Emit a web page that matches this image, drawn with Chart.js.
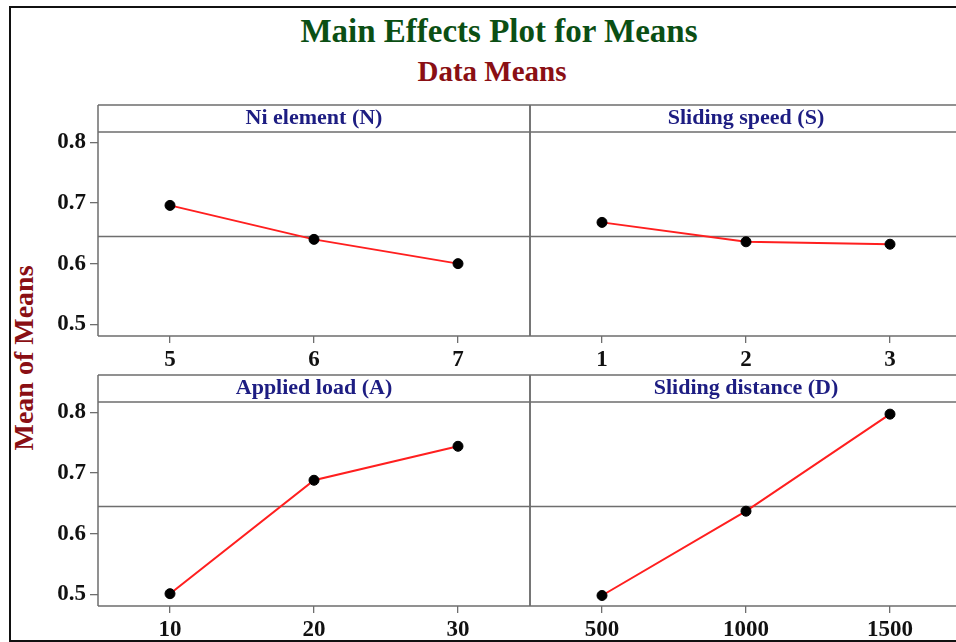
<!DOCTYPE html>
<html>
<head>
<meta charset="utf-8">
<script src="https://cdn.jsdelivr.net/npm/chart.js@4.4.1/dist/chart.umd.min.js"></script>
<style>
html,body{margin:0;padding:0;width:956px;height:642px;overflow:hidden;background:#fff;}
#frame{position:absolute;left:9px;top:6px;width:1000px;height:636px;border:2px solid #111;box-sizing:border-box;}
.txt{position:absolute;text-align:center;font-family:"Liberation Serif","Times New Roman",serif;font-weight:bold;white-space:nowrap;line-height:1;}
#title{left:199px;width:600px;top:15px;font-size:33px;color:#0b4f14;}
#subtitle{left:192px;width:600px;top:57px;font-size:29px;color:#8a0f14;}
#ytitle{left:-126px;width:300px;top:343px;height:30px;line-height:30px;font-size:28px;color:#8a0f14;transform:rotate(-90deg);}
canvas{position:absolute;}
</style>
</head>
<body>
<div id="frame"></div>
<div class="txt" id="title">Main Effects Plot for Means</div>
<div class="txt" id="subtitle">Data Means</div>
<div class="txt" id="ytitle">Mean of Means</div>
<canvas id="c1" width="492" height="272" style="left:40px;top:104px"></canvas>
<canvas id="c2" width="436" height="272" style="left:528px;top:104px"></canvas>
<canvas id="c3" width="492" height="272" style="left:40px;top:374px"></canvas>
<canvas id="c4" width="436" height="272" style="left:528px;top:374px"></canvas>
<script>
// ---- data ----
const niLevels = [5, 6, 7];
const niMeans = [0.696, 0.640, 0.600];
const speedLevels = [1, 2, 3];
const speedMeans = [0.668, 0.636, 0.632];
const loadLevels = [10, 20, 30];
const loadMeans = [0.501, 0.688, 0.744];
const distLevels = [500, 1000, 1500];
const distMeans = [0.498, 0.637, 0.797];
const grandMean = 0.6447;
const yTickValues = [0.5, 0.6, 0.7, 0.8];
const panelTitles = ["Ni element (N)", "Sliding speed (S)", "Applied load (A)", "Sliding distance (D)"];

const FONT = "'Liberation Serif','Times New Roman',serif";
const BOX = '#6e6e6e';

const boxPlugin = {
  id: 'panelBox',
  afterDatasetsDraw(chart) {
    const {ctx, chartArea: a} = chart;
    ctx.save();
    ctx.strokeStyle = BOX;
    ctx.lineWidth = 1.5;
    ctx.beginPath();
    ctx.moveTo(a.left, 1); ctx.lineTo(a.right, 1);
    ctx.moveTo(a.left, a.top); ctx.lineTo(a.right, a.top);
    ctx.moveTo(a.left, a.bottom); ctx.lineTo(a.right, a.bottom);
    ctx.moveTo(a.left, 1); ctx.lineTo(a.left, a.bottom);
    ctx.moveTo(a.right, 1); ctx.lineTo(a.right, a.bottom);
    ctx.stroke();
    ctx.restore();
  }
};

function makePanel(id, levels, means, title, isLeft) {
  const step = levels[1] - levels[0];
  const xMin = levels[0] - step / 2;
  const xMax = levels[levels.length - 1] + step / 2;
  new Chart(document.getElementById(id), {
    type: 'line',
    data: {
      datasets: [
        {
          data: levels.map((x, i) => ({x: x, y: means[i]})),
          borderColor: '#ff1f1f', borderWidth: 2,
          pointRadius: 5, pointBackgroundColor: '#000', pointBorderColor: '#000', pointBorderWidth: 1,
          order: 0
        },
        {
          data: [{x: xMin, y: grandMean}, {x: xMax, y: grandMean}],
          borderColor: BOX, borderWidth: 1.4, pointRadius: 0,
          order: 1
        }
      ]
    },
    options: {
      responsive: false, animation: false,
      layout: {padding: {left: isLeft ? 0 : 2, right: 2, top: 0, bottom: 0}, autoPadding: false},
      plugins: {
        legend: {display: false}, tooltip: {enabled: false},
        title: {
          display: true, text: title, fullSize: false, color: '#1d1d82',
          font: {family: FONT, size: 22, weight: 'bold', lineHeight: 1},
          padding: {top: 3, bottom: 3}
        }
      },
      scales: {
        x: {
          type: 'linear', min: xMin, max: xMax,
          afterBuildTicks: s => { s.ticks = levels.map(v => ({value: v})); },
          afterFit: s => { s.height = 40; },
          grid: {drawOnChartArea: false, drawTicks: true, tickLength: 7, color: BOX, lineWidth: 1.3},
          border: {display: false},
          ticks: {color: '#111', padding: 3, font: {family: FONT, size: 23, weight: 'bold'}, callback: v => String(v)}
        },
        y: {
          display: isLeft, min: 0.4807, max: 0.817,
          afterBuildTicks: s => { s.ticks = yTickValues.map(v => ({value: v})); },
          afterFit: s => { s.width = isLeft ? 58 : 0; },
          grid: {drawOnChartArea: false, drawTicks: true, tickLength: 8, color: BOX, lineWidth: 1.3},
          border: {display: false},
          ticks: {color: '#111', padding: 4, font: {family: FONT, size: 23, weight: 'bold'}, callback: v => v.toFixed(1)}
        }
      }
    },
    plugins: [boxPlugin]
  });
}

makePanel('c1', niLevels, niMeans, panelTitles[0], true);
makePanel('c2', speedLevels, speedMeans, panelTitles[1], false);
makePanel('c3', loadLevels, loadMeans, panelTitles[2], true);
makePanel('c4', distLevels, distMeans, panelTitles[3], false);
</script>
</body>
</html>
